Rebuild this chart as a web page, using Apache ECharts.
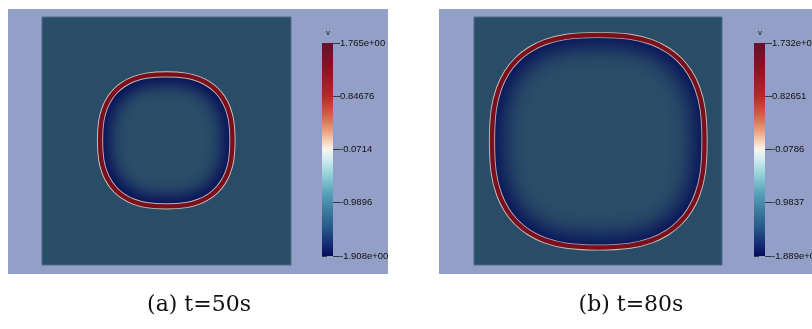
<!DOCTYPE html>
<html><head><meta charset="utf-8">
<script src="https://cdn.jsdelivr.net/npm/echarts@6/dist/echarts.min.js"></script>
<style>html,body{margin:0;padding:0;background:#fff}#c{width:812px;height:329px}</style>
</head><body><div id="c"></div><script>
// Front contour (centre line of the red band), domain coordinates 0..100, y downwards
const ringA = [[49.9,23.15],[41.92,23.68],[36.6,25.14],[32.61,27.23],[29.74,29.59],[27.38,32.46],[25.29,36.45],[23.83,41.77],[23.3,49.75],
  [23.83,57.73],[25.29,63.05],[27.38,67.04],[29.74,69.91],[32.61,72.27],[36.6,74.36],[41.92,75.82],[49.9,76.35],
  [57.88,75.82],[63.2,74.36],[67.19,72.27],[70.06,69.91],[72.42,67.04],[74.51,63.05],[75.97,57.73],[76.5,49.75],
  [75.97,41.77],[74.51,36.45],[72.42,32.46],[70.06,29.59],[67.19,27.23],[63.2,25.14],[57.88,23.68]];
const ringB = [[50.1,7.25],[37.24,7.98],[28.67,10.12],[22.25,13.29],[17.28,17.28],[13.29,22.25],[10.12,28.67],[7.98,37.24],[7.25,50.1],
  [7.98,62.96],[10.12,71.53],[13.29,77.95],[17.28,82.92],[22.25,86.91],[28.67,90.08],[37.24,92.22],[50.1,92.95],
  [62.96,92.22],[71.53,90.08],[77.95,86.91],[82.92,82.92],[86.91,77.95],[90.08,71.53],[92.22,62.96],[92.95,50.1],
  [92.22,37.24],[90.08,28.67],[86.91,22.25],[82.92,17.28],[77.95,13.29],[71.53,10.12],[62.96,7.98]];
// colour bar ranges and labels
const rangeA = [-1.908, 1.765];
const ticksA = [-1.908, -0.9896, -0.0714, 0.84676, 1.765];
const labelsA = ['-1.908e+00', '-0.9896', '-0.0714', '0.84676', '1.765e+00'];
const rangeB = [-1.889, 1.732];
const ticksB = [-1.889, -0.9837, -0.0786, 0.82651, 1.732];
const labelsB = ['-1.889e+00', '-0.9837', '-0.0786', '0.82651', '1.732e+00'];
const captions = ['(a) t=50s', '(b) t=80s'];
const varName = 'v';

const BG = '#939fc7', FIELD = '#2a4d68', NAVY = '#050c58', RED = '#7a0f1f', EDGE = '#d9c9b6';
const CMAP = [
  [0.00,'#6a0f2c'],[0.12,'#8c1121'],[0.25,'#b42a29'],[0.35,'#d8684d'],[0.42,'#eea686'],
  [0.47,'#f8dcc4'],[0.50,'#f5f5ef'],[0.54,'#d6eff1'],[0.62,'#93cfd8'],[0.70,'#5aa4bb'],
  [0.78,'#3d7e9f'],[0.86,'#2a5a8b'],[0.93,'#1a3477'],[1.00,'#070b5c']];

// closed smooth curve through the contour points (Catmull-Rom as cubic Bezier)
function pathFrom(pts){
  const n = pts.length; let d = 'M' + pts[0][0] + ',' + pts[0][1];
  for (let i = 0; i < n; i++){
    const p0 = pts[(i-1+n)%n], p1 = pts[i], p2 = pts[(i+1)%n], p3 = pts[(i+2)%n];
    const c1 = [p1[0]+(p2[0]-p0[0])/6, p1[1]+(p2[1]-p0[1])/6];
    const c2 = [p2[0]-(p3[0]-p1[0])/6, p2[1]-(p3[1]-p1[1])/6];
    d += 'C' + c1[0] + ',' + c1[1] + ' ' + c2[0] + ',' + c2[1] + ' ' + p2[0] + ',' + p2[1];
  }
  return d + 'Z';
}
function ringRenderer(points, innerScale, blur){
  return function(params, api){
    if (params.dataIndex !== 0) return null;
    const pts = points.map(p => api.coord(p));
    let cx = 0, cy = 0; pts.forEach(p => { cx += p[0]; cy += p[1]; }); cx /= pts.length; cy /= pts.length;
    const OFF = 3000;
    const inner = pts.map(p => [cx + (p[0]-cx)*innerScale + OFF, cy + (p[1]-cy)*innerScale]);
    const d = pathFrom(pts);
    return {type:'group', children:[
      {type:'path', shape:{pathData:d}, style:{fill:NAVY, stroke:EDGE, lineWidth:6.2}},
      {type:'path', shape:{pathData:pathFrom(inner)}, style:{fill:FIELD, shadowColor:FIELD, shadowBlur:blur, shadowOffsetX:-OFF, shadowOffsetY:0}},
      {type:'path', shape:{pathData:d}, style:{fill:'none', stroke:RED, lineWidth:4.3}}
    ]};
  };
}
function barRenderer(params, api){
  const top = api.coord([0, api.value(1)]);
  const bot = api.coord([1, api.value(0)]);
  return {type:'rect', shape:{x:top[0], y:top[1], width:bot[0]-top[0], height:bot[1]-top[1]},
    style:{fill:{type:'linear', x:0, y:0, x2:0, y2:1, colorStops:CMAP.map(s=>({offset:s[0], color:s[1]}))}}};
}
function minorTicks(r){ const a=[]; for(let i=0;i<=48;i++) a.push(r[0]+(r[1]-r[0])*i/48); return a; }
function labelFmt(ticks, labels){
  return function(v){ let b=0; for(let i=1;i<ticks.length;i++) if(Math.abs(ticks[i]-v)<Math.abs(ticks[b]-v)) b=i; return labels[b]; };
}
function barAxes(gi, range, ticks, labels){
  return [
    {type:'value', gridIndex:gi, min:range[0], max:range[1], position:'right',
     axisLine:{show:false}, splitLine:{show:false},
     axisTick:{show:true, customValues:minorTicks(range), length:5, lineStyle:{color:'#3a3a3a', width:1}},
     axisLabel:{customValues:ticks, formatter:labelFmt(ticks, labels), margin:7, fontSize:9.5,
       fontFamily:'Liberation Sans', color:'#111', showMinLabel:true, showMaxLabel:true}},
    {type:'value', gridIndex:gi, min:range[0], max:range[1], position:'right',
     axisLine:{show:false}, splitLine:{show:false}, axisLabel:{show:false},
     axisTick:{show:true, customValues:ticks, length:7, lineStyle:{color:'#3a3a3a', width:1}}}
  ];
}

const chart = echarts.init(document.getElementById('c'), null, {renderer:'canvas'});
chart.setOption({
  animation:false,
  grid:[
    {left:42, top:17, width:249, height:248, show:true, backgroundColor:FIELD, borderColor:'#4c6b8a', borderWidth:1, outerBoundsMode:'none'},
    {left:322, top:43, width:11, height:213, outerBoundsMode:'none'},
    {left:474, top:17, width:248, height:248, show:true, backgroundColor:FIELD, borderColor:'#4c6b8a', borderWidth:1, outerBoundsMode:'none'},
    {left:754, top:43, width:11, height:213, outerBoundsMode:'none'}
  ],
  xAxis:[
    {type:'value', gridIndex:0, min:0, max:100, show:false},
    {type:'value', gridIndex:1, min:0, max:1, show:false},
    {type:'value', gridIndex:2, min:0, max:100, show:false},
    {type:'value', gridIndex:3, min:0, max:1, show:false}
  ],
  yAxis:[
    {type:'value', gridIndex:0, min:0, max:100, inverse:true, show:false},
    {type:'value', gridIndex:2, min:0, max:100, inverse:true, show:false}
  ].concat(barAxes(1, rangeA, ticksA, labelsA)).concat(barAxes(3, rangeB, ticksB, labelsB)),
  series:[
    {type:'custom', xAxisIndex:0, yAxisIndex:0, data:ringA, renderItem:ringRenderer(ringA, 0.85, 16), silent:true, clip:false},
    {type:'custom', xAxisIndex:2, yAxisIndex:1, data:ringB, renderItem:ringRenderer(ringB, 0.9, 22), silent:true, clip:false},
    {type:'custom', xAxisIndex:1, yAxisIndex:2, data:[rangeA], renderItem:barRenderer, silent:true},
    {type:'custom', xAxisIndex:3, yAxisIndex:4, data:[rangeB], renderItem:barRenderer, silent:true}
  ],
  graphic:[
    {type:'rect', z:-10, silent:true, shape:{x:8, y:9, width:380, height:265}, style:{fill:BG}},
    {type:'rect', z:-10, silent:true, shape:{x:439, y:9, width:373, height:265}, style:{fill:BG}},
    {type:'text', x:328, y:33, style:{text:varName, font:'8px "Liberation Sans"', fill:'#111', textAlign:'center', textVerticalAlign:'middle'}},
    {type:'text', x:760, y:33, style:{text:varName, font:'8px "Liberation Sans"', fill:'#111', textAlign:'center', textVerticalAlign:'middle'}},
    {type:'text', x:199, y:305, style:{text:captions[0], font:'22px "DejaVu Serif"', fill:'#111', textAlign:'center', textVerticalAlign:'middle'}},
    {type:'text', x:631, y:305, style:{text:captions[1], font:'22px "DejaVu Serif"', fill:'#111', textAlign:'center', textVerticalAlign:'middle'}}
  ]
});
</script></body></html>
